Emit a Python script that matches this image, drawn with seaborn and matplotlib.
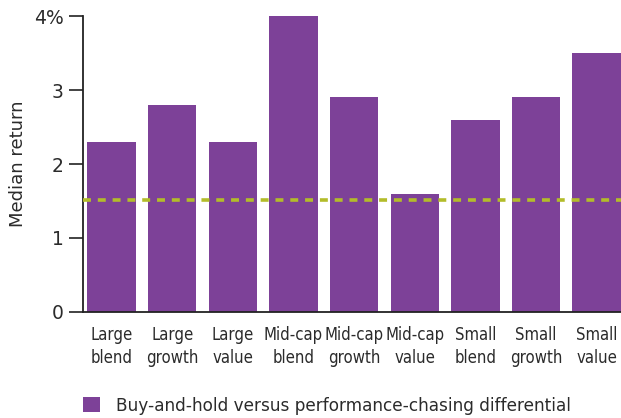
import matplotlib
matplotlib.use("Agg")
import matplotlib.pyplot as plt
from matplotlib.patches import Patch
import pandas as pd
import seaborn as sns

# values
categories = ["Large\nblend", "Large\ngrowth", "Large\nvalue",
              "Mid-cap\nblend", "Mid-cap\ngrowth", "Mid-cap\nvalue",
              "Small\nblend", "Small\ngrowth", "Small\nvalue"]
median_return = [2.3, 2.8, 2.3, 4.0, 2.9, 1.6, 2.6, 2.9, 3.5]
average_line = 1.52
y_ticks = [0, 1, 2, 3, 4]
y_tick_labels = ["0", "1", "2", "3", "4%"]

bar_color = "#7D4198"
line_color = "#B3BC2A"
text_color = "#2b2b2b"

sns.set_theme(style="white")
plt.rcParams["font.family"] = ["DejaVu Sans"]

df = pd.DataFrame({"category": categories, "value": median_return})

fig = plt.figure(figsize=(6.21, 4.18), dpi=100)
ax = fig.add_axes([0.1337, 0.2536, 0.8663, 0.7081])

sns.barplot(data=df, x="category", y="value", color=bar_color,
            saturation=1, width=0.8, linewidth=0, ax=ax)
ax.axhline(average_line, color=line_color, linewidth=2.6,
           linestyle=(0, (2.2, 1.9)), zorder=3)

ax.set_xlim(-0.47, 8.4)
ax.set_ylim(0, 4)
ax.set_yticks(y_ticks)
ax.set_yticklabels(y_tick_labels, fontsize=13.5, color=text_color)
ax.tick_params(axis="y", left=True, length=10, width=1.2,
               color="#222222", pad=4)
ax.tick_params(axis="x", bottom=False, length=0, pad=10)
for lbl in ax.get_xticklabels():
    lbl.set_fontsize(12)
    lbl.set_fontstretch("condensed")
    lbl.set_color(text_color)
    lbl.set_linespacing(1.4)
ax.set_xlabel("")
ax.set_ylabel("Median return", fontsize=13, color=text_color, labelpad=5)

for side in ["top", "right"]:
    ax.spines[side].set_visible(False)
for side in ["left", "bottom"]:
    ax.spines[side].set_color("#222222")
    ax.spines[side].set_linewidth(1.3)

handles = [Patch(facecolor=bar_color, edgecolor="none")]
fig.legend(handles, ["Buy-and-hold versus performance-chasing differential"],
           loc="lower left", bbox_to_anchor=(83 / 621, 0.008), frameon=False,
           prop={"size": 12.2}, labelcolor=text_color,
           borderpad=0, borderaxespad=0,
           handlelength=1.0, handleheight=1.0, handletextpad=0.95)

fig.savefig("out.png", dpi=100)
